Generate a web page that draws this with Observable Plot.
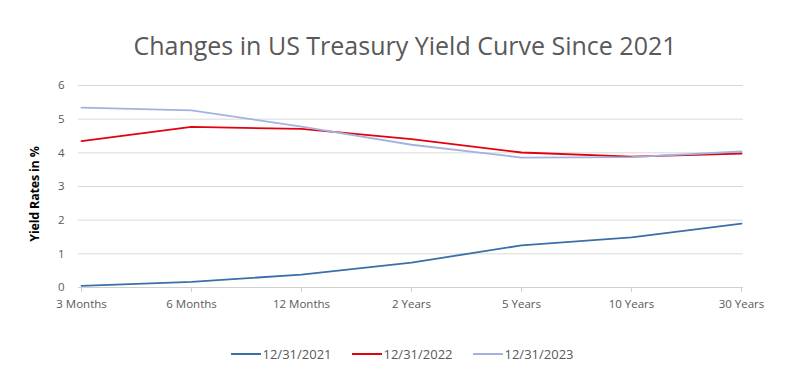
<!DOCTYPE html>
<html>
<head>
<meta charset="utf-8">
<script src="https://cdn.jsdelivr.net/npm/d3@7"></script>
<script src="https://cdn.jsdelivr.net/npm/@observablehq/plot@0.6"></script>
<style>
  html, body { margin: 0; padding: 0; background: #fff; }
  #wrap { width: 800px; height: 375px; position: relative; font-family: "Open Sans", sans-serif; }
  #title { height: 70px; box-sizing: border-box; padding-top: 30px; text-align: center; font-size: 25px; color: #595959; line-height: 30px; padding-left: 10px; }
  #legend { height: 55px; display: flex; justify-content: center; align-items: center; gap: 20px; font-size: 13px; color: #595959; padding-left: 4px; padding-top: 12px; box-sizing: border-box; }
  #legend .item { display: flex; align-items: center; }
  #legend svg { margin-right: 2px; }
  #ylab { position: absolute; left: 34px; top: 194px; transform: translate(-50%, -50%) rotate(-90deg); font-size: 12.5px; font-weight: bold; color: #000; white-space: nowrap; font-family: "Open Sans", sans-serif; letter-spacing: -0.2px; }
</style>
</head>
<body>
<div id="wrap">
  <div id="title">Changes in US Treasury Yield Curve Since 2021</div>
  <div id="chart"></div>
  <div id="legend"></div>
  <div id="ylab">Yield Rates in %</div>
</div>
<script>
const maturities = ["3 Months", "6 Months", "12 Months", "2 Years", "5 Years", "10 Years", "30 Years"];
const seriesNames = ["12/31/2021", "12/31/2022", "12/31/2023"];
const y2021 = [0.05, 0.17, 0.38, 0.74, 1.25, 1.49, 1.90];
const y2022 = [4.35, 4.77, 4.71, 4.41, 4.01, 3.89, 3.98];
const y2023 = [5.34, 5.26, 4.78, 4.24, 3.86, 3.87, 4.04];
const yTicks = [0, 1, 2, 3, 4, 5, 6];
const colors = ["#3b6fa8", "#e3000f", "#a3b3de"];

const seriesValues = [y2021, y2022, y2023];
const data = [];
seriesNames.forEach((s, i) => {
  maturities.forEach((m, j) => data.push({series: s, maturity: m, value: seriesValues[i][j]}));
});

const chart = Plot.plot({
  width: 800,
  height: 250,
  marginTop: 15,
  marginBottom: 33,
  marginLeft: 78,
  marginRight: 57,
  style: {fontFamily: "Open Sans, sans-serif", fontSize: "11px", color: "#595959", background: "#fff"},
  x: {type: "point", domain: maturities, padding: 0, label: null},
  y: {domain: [0, 6], ticks: yTicks, label: null},
  color: {domain: seriesNames, range: colors},
  marks: [
    Plot.gridY(yTicks.filter(t => t > 0), {stroke: "#d9d9d9", strokeOpacity: 1, strokeWidth: 1}),
    Plot.ruleY([0], {stroke: "#d0d0d0", strokeWidth: 1.2}),
    Plot.ruleX(maturities, {x: d => d, y1: 0, y2: -0.15, stroke: "#d0d0d0"}),
    Plot.axisY(yTicks, {tickSize: 0, tickPadding: 14, fontSize: 11.5, fill: "#595959"}),
    Plot.axisX(maturities, {tickSize: 0, tickPadding: 12, fontSize: 11.5, fill: "#595959"}),
    Plot.line(data, {x: "maturity", y: "value", z: "series", stroke: "series", strokeWidth: 1.8, curve: "linear"})
  ]
});
document.getElementById("chart").appendChild(chart);

const legend = document.getElementById("legend");
seriesNames.forEach((s, i) => {
  const item = document.createElement("div");
  item.className = "item";
  item.innerHTML = `<svg width="30" height="10"><line x1="0" x2="30" y1="5" y2="5" stroke="${colors[i]}" stroke-width="2"/></svg><span>${s}</span>`;
  legend.appendChild(item);
});
</script>
</body>
</html>
